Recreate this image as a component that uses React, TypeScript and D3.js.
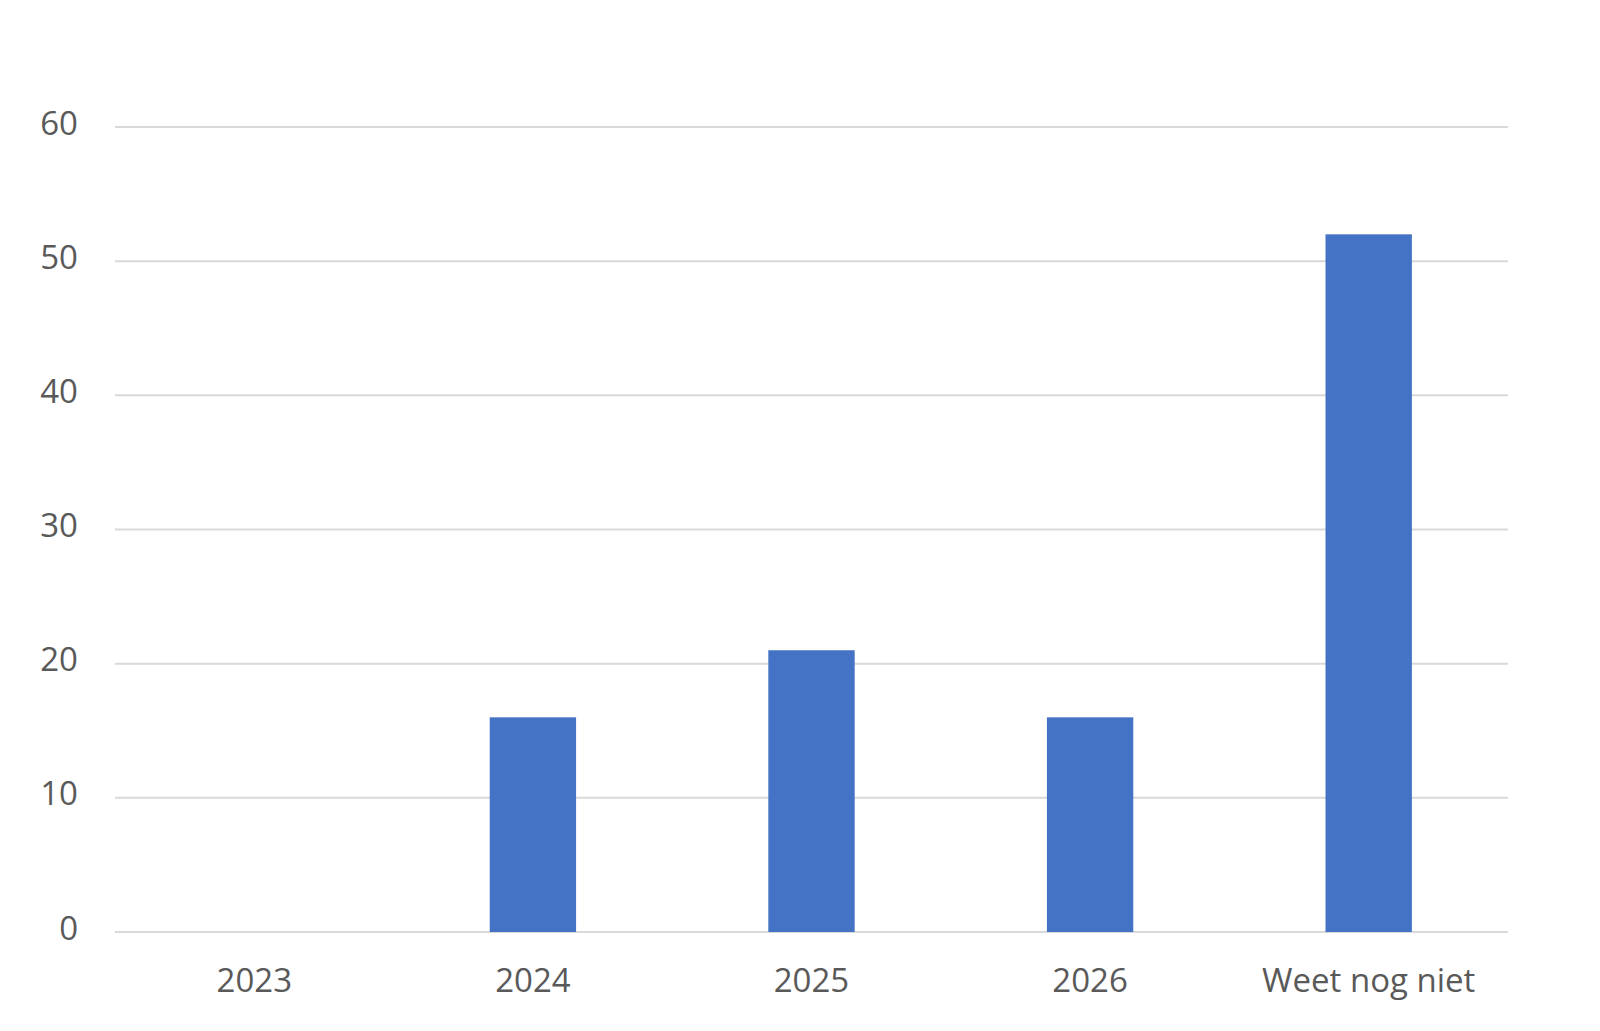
import { useEffect, useRef } from 'react';
import * as d3 from 'd3';

const categories = ['2023', '2024', '2025', '2026', 'Weet nog niet'];
const values = [0, 16, 21, 16, 52];
const yTicks = [0, 10, 20, 30, 40, 50, 60];

function App() {
  const ref = useRef(null);

  const svgWidth = 1600;
  const svgHeight = 1031;

  useEffect(() => {
    getChart();
  }, []);

  function getChart() {
    const left = 115;
    const right = 1508;
    const top = 127;
    const bottom = 932;

    const svg = d3.select(ref.current);
    svg.selectAll('*').remove();

    svg
      .append('rect')
      .attr('width', svgWidth)
      .attr('height', svgHeight)
      .attr('fill', '#ffffff');

    // x and y scales
    const x = d3
      .scaleBand()
      .domain(categories)
      .range([left, right])
      .paddingInner(0.69)
      .paddingOuter(0.345);

    const y = d3.scaleLinear().domain([0, 60]).range([bottom, top]);

    // Gridlines
    svg
      .append('g')
      .selectAll('line')
      .data(yTicks)
      .join('line')
      .attr('x1', left)
      .attr('x2', right)
      .attr('y1', (d) => y(d))
      .attr('y2', (d) => y(d))
      .attr('stroke', '#d9d9d9')
      .attr('stroke-width', 2);

    // Y tick labels
    svg
      .append('g')
      .selectAll('text')
      .data(yTicks)
      .join('text')
      .attr('x', 78)
      .attr('y', (d) => y(d) - 5)
      .attr('text-anchor', 'end')
      .attr('dominant-baseline', 'central')
      .attr('font-family', '"Open Sans", sans-serif')
      .attr('font-size', 33)
      .attr('fill', '#595959')
      .text((d) => d);

    // Bars
    svg
      .append('g')
      .attr('fill', '#4472c4')
      .selectAll('rect')
      .data(values)
      .join('rect')
      .attr('x', (_, i) => x(categories[i]) as number)
      .attr('y', (d) => y(d))
      .attr('width', x.bandwidth())
      .attr('height', (d) => y(0) - y(d));

    // Category labels
    svg
      .append('g')
      .selectAll('text')
      .data(categories)
      .join('text')
      .attr('x', (d) => (x(d) as number) + x.bandwidth() / 2)
      .attr('y', 992)
      .attr('text-anchor', 'middle')
      .attr('font-family', '"Open Sans", sans-serif')
      .attr('font-size', 33)
      .attr('fill', '#595959')
      .text((d) => d);
  }

  return (
    <svg
      ref={ref}
      width={svgWidth}
      height={svgHeight}
      style={{ position: 'absolute', left: 0, top: 0 }}
    ></svg>
  );
}

export default App;
